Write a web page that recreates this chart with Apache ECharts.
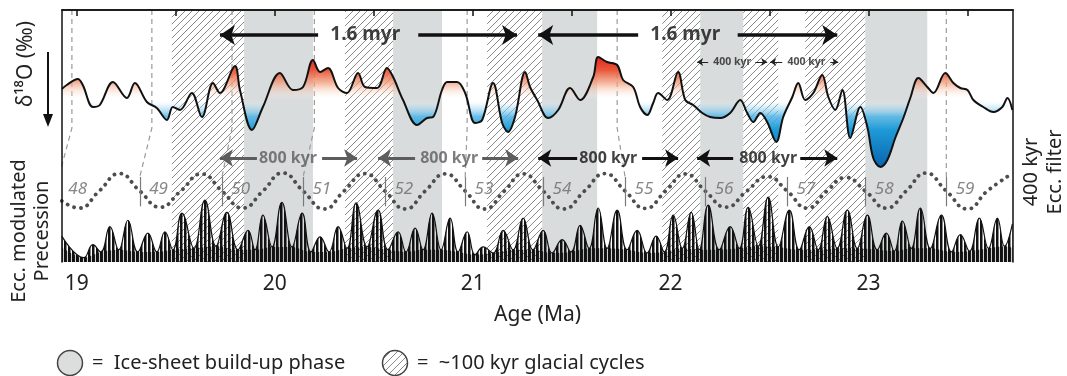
<!DOCTYPE html>
<html>
<head>
<meta charset="utf-8">
<script src="https://cdn.jsdelivr.net/npm/echarts@6.0.0/dist/echarts.min.js"></script>
<style>
html, body { margin: 0; padding: 0; background: #fff; }
#chart { width: 1067px; height: 376px; }
</style>
</head>
<body>
<div id="chart"></div>
<script>
// ---------- data ----------
const ageMin = 18.925, ageMax = 23.73;
const ageTicks = [19, 19.5, 20, 20.5, 21, 21.5, 22, 22.5, 23, 23.5];
const ageLabels = [19, 20, 21, 22, 23];

// d18O record (permil, plotted downwards)
const d18oAge = [18.924, 18.949, 19.005, 19.030, 19.081, 19.116, 19.182, 19.253, 19.293, 19.354,
  19.404, 19.455, 19.485, 19.521, 19.581, 19.632, 19.688, 19.723, 19.799, 19.824,
  19.885, 19.940, 20.026, 20.092, 20.143, 20.193, 20.229, 20.269, 20.320, 20.365,
  20.421, 20.456, 20.517, 20.567, 20.598, 20.648, 20.719, 20.769, 20.800, 20.845,
  20.871, 20.921, 20.962, 21.012, 21.048, 21.103, 21.149, 21.179, 21.214, 21.265,
  21.290, 21.326, 21.381, 21.432, 21.492, 21.543, 21.609, 21.634, 21.679, 21.730,
  21.760, 21.811, 21.846, 21.882, 21.912, 21.937, 21.983, 22.038, 22.074, 22.114,
  22.160, 22.200, 22.251, 22.301, 22.352, 22.387, 22.418, 22.453, 22.488, 22.534,
  22.569, 22.615, 22.645, 22.680, 22.721, 22.766, 22.797, 22.832, 22.868, 22.908,
  22.959, 22.994, 23.024, 23.060, 23.095, 23.135, 23.176, 23.211, 23.252, 23.297,
  23.328, 23.388, 23.429, 23.464, 23.500, 23.530, 23.580, 23.631, 23.676, 23.702, 23.727];
const d18oVal = [1.89, 1.85, 1.79, 1.85, 2.07, 2.05, 1.82, 1.98, 1.83, 2.02,
  2.08, 2.20, 2.07, 2.10, 1.93, 2.17, 1.83, 1.93, 1.66, 1.90,
  2.30, 2.07, 1.73, 1.90, 1.87, 1.60, 1.72, 1.68, 1.88, 1.93,
  1.73, 1.87, 1.88, 1.68, 1.77, 2.00, 2.25, 2.18, 2.17, 1.90,
  1.82, 1.82, 1.93, 2.23, 2.20, 1.83, 2.23, 2.32, 2.17, 1.72,
  1.87, 2.00, 2.18, 2.10, 1.88, 2.00, 1.77, 1.57, 1.62, 1.65,
  1.80, 1.87, 2.07, 2.15, 2.03, 1.93, 2.00, 1.72, 2.00, 2.05,
  2.13, 2.17, 2.18, 2.13, 2.00, 2.13, 2.22, 2.13, 2.22, 2.42,
  2.17, 1.97, 1.83, 2.00, 1.93, 1.75, 1.97, 2.10, 1.90, 2.38,
  2.07, 2.27, 2.58, 2.67, 2.60, 2.38, 2.18, 1.98, 1.78, 1.87,
  1.93, 1.73, 1.83, 1.88, 1.90, 2.00, 2.07, 2.12, 2.07, 1.98, 2.10];
const d18oMid = 2.0;

// 400 kyr eccentricity filter (normalised)
const eccAge = [18.924, 19.011, 19.113, 19.215, 19.318, 19.42, 19.525, 19.63, 19.733, 19.838,
  19.94, 20.04, 20.143, 20.25, 20.35, 20.455, 20.557, 20.66, 20.76, 20.862,
  20.962, 21.06, 21.16, 21.255, 21.356, 21.46, 21.565, 21.668, 21.77, 21.872,
  21.975, 22.075, 22.175, 22.28, 22.385, 22.49, 22.589, 22.69, 22.79, 22.885,
  22.984, 23.09, 23.19, 23.29, 23.393, 23.5, 23.6, 23.727];
const eccVal = [-0.55, -0.95, 0, 0.97, 0, -0.9, 0, 0.95, 0, -0.95,
  0, 1.0, 0, -1.0, 0, 0.97, 0, -1.0, 0, 0.95,
  0, -1.0, 0, 0.95, 0, -1.0, 0, 0.97, 0, -0.97,
  0, 0.95, 0, -0.9, 0, 0.8, 0, -0.95, 0, 0.75,
  0, -0.95, 0, 1.0, 0, -1.0, 0, 0.98];

// 400 kyr cycles: number and start age (descending zero crossing)
const cycleNumbers = [48, 49, 50, 51, 52, 53, 54, 55, 56, 57, 58, 59];
const cycleStart = [18.909, 19.318, 19.733, 20.143, 20.557, 20.962, 21.356, 21.770, 22.175, 22.589, 22.984, 23.393];

// eccentricity modulated precession envelope (normalised): lobe tops and the dips between them
const precAge = [18.924, 19.035, 19.081, 19.121, 19.167, 19.212, 19.258, 19.308, 19.359, 19.404,
  19.445, 19.485, 19.531, 19.592, 19.647, 19.703, 19.758, 19.814, 19.865, 19.900,
  19.940, 19.986, 20.036, 20.087, 20.138, 20.183, 20.229, 20.274, 20.320, 20.365,
  20.411, 20.466, 20.522, 20.572, 20.623, 20.663, 20.709, 20.749, 20.795, 20.840,
  20.886, 20.926, 20.972, 21.012, 21.053, 21.103, 21.154, 21.204, 21.255, 21.305,
  21.356, 21.401, 21.452, 21.497, 21.543, 21.588, 21.634, 21.679, 21.730, 21.780,
  21.831, 21.881, 21.927, 21.968, 22.013, 22.059, 22.104, 22.145, 22.190, 22.246,
  22.301, 22.347, 22.392, 22.443, 22.493, 22.544, 22.600, 22.650, 22.701, 22.746,
  22.792, 22.842, 22.893, 22.943, 22.994, 23.044, 23.090, 23.130, 23.171, 23.216,
  23.262, 23.312, 23.368, 23.419, 23.464, 23.510, 23.560, 23.606, 23.651, 23.687, 23.727];
const precVal = [0.36, 0.06, 0.24, 0.14, 0.49, 0.17, 0.58, 0.14, 0.40, 0.14,
  0.42, 0.17, 0.68, 0.19, 0.86, 0.22, 0.69, 0.17, 0.44, 0.17,
  0.65, 0.21, 0.83, 0.21, 0.68, 0.14, 0.35, 0.14, 0.49, 0.19,
  0.82, 0.21, 0.72, 0.17, 0.42, 0.14, 0.47, 0.17, 0.68, 0.17,
  0.61, 0.14, 0.42, 0.10, 0.21, 0.125, 0.44, 0.17, 0.61, 0.17,
  0.44, 0.125, 0.31, 0.14, 0.51, 0.19, 0.75, 0.19, 0.72, 0.17,
  0.44, 0.125, 0.36, 0.14, 0.65, 0.19, 0.69, 0.17, 0.79, 0.17,
  0.49, 0.19, 0.76, 0.22, 0.90, 0.21, 0.72, 0.17, 0.49, 0.17,
  0.63, 0.19, 0.72, 0.19, 0.65, 0.17, 0.40, 0.15, 0.57, 0.19,
  0.75, 0.19, 0.65, 0.14, 0.38, 0.15, 0.61, 0.19, 0.61, 0.22, 0.53];

// shaded phases (Ma)
const buildupBands = [[19.845, 20.193], [20.598, 20.845], [21.351, 21.629], [22.150, 22.367], [22.984, 23.297]];
const glacialBands = [[19.480, 19.845], [20.355, 20.598], [21.073, 21.351], [21.958, 22.150], [22.367, 22.544], [22.680, 22.984]];

// dashed correlation lines: age at top of panel -> cycle index below
const corrTopAge = [18.975, 19.379, 19.784, 20.200, 20.972, 21.730, 23.393];
const corrCycle = [0, 1, 2, 3, 5, 7, 11];

// ---------- look ----------
const FONT = '"Noto Sans", "Open Sans", sans-serif';
const L = 62, R = 54;

function hatchPattern() {
  const c = document.createElement('canvas');
  c.width = 7; c.height = 7;
  const g = c.getContext('2d');
  g.strokeStyle = '#8a8a8a';
  g.lineWidth = 1;
  g.beginPath();
  g.moveTo(-1, 8); g.lineTo(8, -1);
  g.moveTo(-1, 1); g.lineTo(1, -1);
  g.moveTo(6, 8); g.lineTo(8, 6);
  g.stroke();
  return c;
}
function stripePattern(bar) {
  const c = document.createElement('canvas');
  c.width = 8; c.height = 4;
  const g = c.getContext('2d');
  g.fillStyle = '#111';
  g.fillRect(0, 0, bar, 4);
  g.fillRect(4, 0, bar, 4);
  return c;
}
const hatch = { image: hatchPattern(), repeat: 'repeat' };
const stripes = { image: stripePattern(2.5), repeat: 'repeat' };
const stripesDense = { image: stripePattern(3.2), repeat: 'repeat' };

const chart = echarts.init(document.getElementById('chart'), null, { renderer: 'canvas' });

const zip = (a, b) => a.map((v, i) => [v, b[i]]);
// dips between precession lobes form the dark base strip
const precBase = zip(precAge, precVal).filter((p, i) => i % 2 === 1 || i === 0 || i === precAge.length - 1)
  .map((p, i, arr) => (i === 0 || i === arr.length - 1) ? [p[0], Math.min(p[1], 0.2)] : p);

// arrows: [from, tip, y(px below frame top), kind]
const arrows = [
  [20.219, 19.723, 25, 'big'], [20.725, 21.224, 25, 'big'],
  [21.836, 21.331, 25, 'big'], [22.339, 22.842, 25, 'big'],
  [19.910, 19.723, 148, 'grey'], [20.239, 20.416, 148, 'grey'],
  [20.709, 20.522, 148, 'grey'], [21.048, 21.230, 148, 'grey'],
  [21.528, 21.331, 148, 'mid'], [21.856, 22.038, 148, 'mid'],
  [22.316, 22.134, 148, 'mid'], [22.655, 22.842, 148, 'mid'],
  [22.190, 22.134, 52, 'small'], [22.428, 22.488, 52, 'small'],
  [22.564, 22.503, 52, 'small'], [22.807, 22.847, 52, 'small']
];
const arrowStyle = {
  big: { color: '#111', width: 3.5, head: [15, 15] },
  grey: { color: '#5d5d5d', width: 3, head: [13, 13] },
  mid: { color: '#111', width: 3, head: [13, 13] },
  small: { color: '#222', width: 1, head: [6, 6] }
};
const notes = [
  ['1.6 myr', 20.457, 25, 'big'], ['1.6 myr', 22.074, 25, 'big'],
  ['800 kyr', 20.067, 148, 'grey'], ['800 kyr', 20.881, 148, 'grey'],
  ['800 kyr', 21.685, 148, 'mid'], ['800 kyr', 22.493, 148, 'mid'],
  ['400 kyr', 22.311, 52, 'small'], ['400 kyr', 22.686, 52, 'small']
];
const noteStyle = {
  big: { fontSize: 19, color: '#111' },
  grey: { fontSize: 16, color: '#5d5d5d' },
  mid: { fontSize: 16, color: '#111' },
  small: { fontSize: 10.5, color: '#222' }
};

const corrSeries = corrTopAge.map((a, i) => ({
  type: 'line', xAxisIndex: 0, yAxisIndex: 0, z: 2, silent: true,
  symbol: 'none', clip: true,
  lineStyle: { color: '#9a9a9a', width: 1.2, type: [5, 4] },
  data: [[a, 0], [a, 118], [cycleStart[corrCycle[i]], 167]]
}));

const option = {
  animation: false,
  backgroundColor: '#fff',
  grid: [
    { left: L, right: R, top: 10, bottom: 114 },
    { left: L, right: R, top: 40, height: 130 },
    { left: L, right: R, top: 173, height: 36 },
    { left: L, right: R, top: 190, bottom: 114 }
  ],
  xAxis: [
    {
      gridIndex: 0, type: 'value', min: ageMin, max: ageMax, z: 10,
      axisLine: { lineStyle: { color: '#111', width: 1.5 } },
      axisTick: { customValues: ageTicks, length: 6, lineStyle: { color: '#111', width: 1.5 } },
      axisLabel: { customValues: ageLabels, fontSize: 21, color: '#222', margin: 12, fontFamily: FONT },
      splitLine: { show: false },
      name: 'Age (Ma)', nameLocation: 'middle', nameGap: 43,
      nameTextStyle: { fontSize: 21, color: '#222', fontFamily: FONT }
    },
    {
      gridIndex: 0, type: 'value', position: 'top', min: ageMin, max: ageMax, z: 10,
      axisLine: { lineStyle: { color: '#111', width: 1.5 } },
      axisTick: { show: false }, axisLabel: { show: false }, splitLine: { show: false }
    },
    { gridIndex: 1, type: 'value', min: ageMin, max: ageMax, show: false },
    { gridIndex: 2, type: 'value', min: ageMin, max: ageMax, show: false },
    { gridIndex: 3, type: 'value', min: ageMin, max: ageMax, show: false }
  ],
  yAxis: [
    {
      gridIndex: 0, type: 'value', min: 0, max: 252, inverse: true, z: 10,
      axisLine: { show: true, lineStyle: { color: '#111', width: 1.5 } },
      axisTick: { show: false }, axisLabel: { show: false }, splitLine: { show: false }
    },
    {
      gridIndex: 0, type: 'value', position: 'right', min: 0, max: 252, inverse: true, z: 10,
      axisLine: { show: true, lineStyle: { color: '#111', width: 1.5 } },
      axisTick: { show: false }, axisLabel: { show: false }, splitLine: { show: false }
    },
    { gridIndex: 1, type: 'value', min: 1.4, max: 2.7, inverse: true, show: false },
    { gridIndex: 2, type: 'value', min: -1, max: 1, show: false },
    { gridIndex: 3, type: 'value', min: 0, max: 1, show: false }
  ],
  series: [
    {
      type: 'line', xAxisIndex: 0, yAxisIndex: 0, z: 1, silent: true,
      data: [[ageMin, 0]], symbol: 'none', lineStyle: { width: 0 },
      markArea: {
        silent: true,
        data: buildupBands.map(b => [{ xAxis: b[0], itemStyle: { color: '#d9dcdc' } }, { xAxis: b[1] }])
          .concat(glacialBands.map(b => [{ xAxis: b[0], itemStyle: { color: hatch } }, { xAxis: b[1] }]))
      }
    },
    ...corrSeries,
    {
      name: 'd18O', type: 'line', xAxisIndex: 2, yAxisIndex: 2, z: 3, silent: true,
      data: zip(d18oAge, d18oVal), smooth: 0.35, symbol: 'none',
      lineStyle: { color: '#111', width: 2 },
      areaStyle: {
        origin: d18oMid, opacity: 1,
        color: {
          type: 'linear', x: 0, y: 57, x2: 0, y2: 167, global: true,
          colorStops: [
            { offset: 0, color: 'rgb(226,35,26)' },
            { offset: 0.12, color: 'rgba(232,80,50,0.95)' },
            { offset: 0.23, color: 'rgba(240,150,115,0.75)' },
            { offset: 0.32, color: 'rgba(248,210,190,0.35)' },
            { offset: 0.39, color: 'rgba(255,255,255,0)' },
            { offset: 0.445, color: 'rgba(170,220,245,0.35)' },
            { offset: 0.54, color: 'rgba(80,180,230,0.85)' },
            { offset: 0.66, color: 'rgb(30,155,215)' },
            { offset: 1, color: 'rgb(10,100,175)' }
          ]
        }
      }
    },
    {
      name: 'ecc400', type: 'line', xAxisIndex: 3, yAxisIndex: 3, z: 4, silent: true,
      data: zip(eccAge, eccVal), smooth: 0.5, symbol: 'none',
      lineStyle: { color: '#4d4d4d', width: 3.8, type: [0.1, 6.8], cap: 'round' },
      markLine: {
        silent: true, symbol: ['none', 'none'],
        label: { show: false },
        lineStyle: { color: '#7a7a7a', width: 1.2, type: 'solid' },
        data: cycleStart.slice(1).map(c => [{ coord: [c, 0.78] }, { coord: [c, -0.85] }])
      }
    },
    {
      type: 'scatter', xAxisIndex: 3, yAxisIndex: 3, z: 4, silent: true,
      symbolSize: 1, itemStyle: { color: 'transparent' },
      data: cycleNumbers.map((n, i) => ({ name: String(n), value: [cycleStart[i] + 0.095, 0.08] })),
      label: {
        show: true, position: 'inside', formatter: '{b}',
        fontSize: 17, fontStyle: 'italic', color: '#6a6a6a', fontFamily: FONT
      }
    },
    {
      name: 'precession', type: 'line', xAxisIndex: 4, yAxisIndex: 4, z: 5, silent: true,
      data: zip(precAge, precVal), smooth: 0.45, symbol: 'none',
      lineStyle: { color: '#111', width: 1.2 },
      areaStyle: { color: stripes, opacity: 1 }
    },
    {
      name: 'precession base', type: 'line', xAxisIndex: 4, yAxisIndex: 4, z: 5, silent: true,
      data: precBase, smooth: 0.3, symbol: 'none',
      lineStyle: { width: 0 },
      areaStyle: { color: stripesDense, opacity: 0.9 }
    },
    {
      type: 'scatter', xAxisIndex: 0, yAxisIndex: 0, z: 6, silent: true,
      symbolSize: 1, itemStyle: { color: 'transparent' },
      data: notes.map(n => ({
        name: n[0], value: [n[1], n[2]],
        label: { fontSize: noteStyle[n[3]].fontSize, color: noteStyle[n[3]].color }
      })),
      label: { show: true, position: 'inside', formatter: '{b}', fontWeight: 'bold', fontFamily: FONT },
      markLine: {
        silent: true, label: { show: false },
        data: arrows.map(a => {
          const s = arrowStyle[a[3]];
          return [
            { coord: [a[0], a[2]], symbol: 'none', lineStyle: { color: s.color, width: s.width, type: 'solid' } },
            { coord: [a[1], a[2]], symbol: 'arrow', symbolSize: s.head }
          ];
        })
      }
    }
  ],
  graphic: [
    { type: 'text', x: 26, y: 64, rotation: Math.PI / 2,
      style: { text: 'δ¹⁸O (‰)', fill: '#222', fontSize: 21, fontFamily: FONT, align: 'center', verticalAlign: 'middle' } },
    { type: 'line', shape: { x1: 48, y1: 52, x2: 48, y2: 116 }, style: { stroke: '#111', lineWidth: 2 } },
    { type: 'polygon', shape: { points: [[43, 114], [53, 114], [48, 127]] }, style: { fill: '#111' } },
    { type: 'text', x: 19, y: 231, rotation: Math.PI / 2,
      style: { text: 'Ecc. modulated', fill: '#222', fontSize: 20, fontFamily: FONT, align: 'center', verticalAlign: 'middle' } },
    { type: 'text', x: 42, y: 231, rotation: Math.PI / 2,
      style: { text: 'Precession', fill: '#222', fontSize: 20, fontFamily: FONT, align: 'center', verticalAlign: 'middle' } },
    { type: 'text', x: 1031, y: 172, rotation: Math.PI / 2,
      style: { text: '400 kyr', fill: '#222', fontSize: 20, fontFamily: FONT, align: 'center', verticalAlign: 'middle' } },
    { type: 'text', x: 1055, y: 172, rotation: Math.PI / 2,
      style: { text: 'Ecc. filter', fill: '#222', fontSize: 20, fontFamily: FONT, align: 'center', verticalAlign: 'middle' } },
    { type: 'circle', shape: { cx: 70, cy: 363, r: 12.5 }, style: { fill: '#dcdede', stroke: '#444', lineWidth: 1.5 } },
    { type: 'text', x: 92, y: 363,
      style: { text: '=  Ice-sheet build-up phase', fill: '#222', fontSize: 20, fontFamily: FONT, align: 'left', verticalAlign: 'middle' } },
    { type: 'circle', shape: { cx: 395, cy: 363, r: 12.5 }, style: { fill: hatch, stroke: '#444', lineWidth: 1.5 } },
    { type: 'text', x: 417, y: 363,
      style: { text: '=  ~100 kyr glacial cycles', fill: '#222', fontSize: 20, fontFamily: FONT, align: 'left', verticalAlign: 'middle' } }
  ]
};

chart.setOption(option);
</script>
</body>
</html>
